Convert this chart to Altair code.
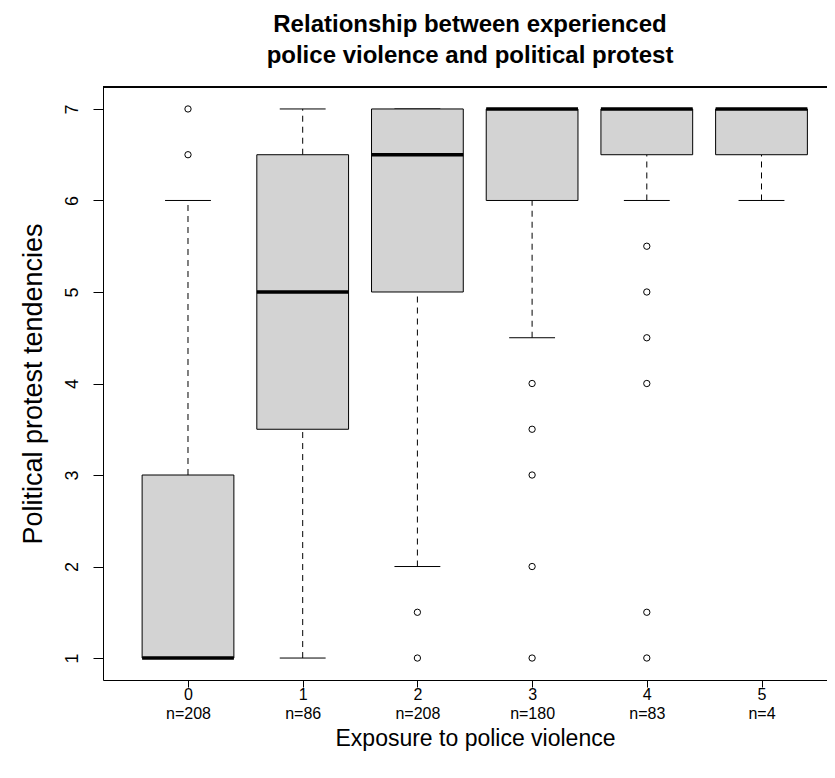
import altair as alt
import pandas as pd

# ---- data ----
groups = [0, 1, 2, 3, 4, 5]
n_labels = ["n=208", "n=86", "n=208", "n=180", "n=83", "n=4"]
q1 = [1.0, 3.5, 5.0, 6.0, 6.5, 6.5]
median = [1.0, 5.0, 6.5, 7.0, 7.0, 7.0]
q3 = [3.0, 6.5, 7.0, 7.0, 7.0, 7.0]
whisk_lo = [1.0, 1.0, 2.0, 4.5, 6.0, 6.0]
whisk_hi = [6.0, 7.0, 7.0, 7.0, 7.0, 7.0]
out_group = [0, 0, 2, 2, 3, 3, 3, 3, 3, 4, 4, 4, 4, 4, 4]
out_value = [6.5, 7.0, 1.5, 1.0, 4.0, 3.5, 3.0, 2.0, 1.0, 5.5, 5.0, 4.5, 4.0, 1.5, 1.0]
y_ticks = [1, 2, 3, 4, 5, 6, 7]

title_lines = ["Relationship between experienced", "police violence and political protest"]
x_title = "Exposure to police violence"
y_title = "Political protest tendencies"

box_df = pd.DataFrame({"g": groups, "q1": q1, "med": median, "q3": q3,
                       "lo": whisk_lo, "hi": whisk_hi})
out_df = pd.DataFrame({"g": out_group, "v": out_value})

W, H = 724, 593
FONT = "Liberation Sans"

xs = alt.Scale(domain=[-0.741, 5.571], nice=False, zero=False)
ys = alt.Scale(domain=[0.76, 7.24], nice=False, zero=False)

label_expr = "[datum.label, " + str(n_labels) + "[datum.value]]"

x_axis = alt.Axis(values=groups, format="d", title=x_title, grid=False,
                  labelExpr=label_expr, labelFont=FONT, labelFontSize=16,
                  labelColor="black", labelLineHeight=19, labelPadding=-1,
                  labelBaseline="top", tickSize=7, tickColor="black",
                  domainColor="black", titleFont=FONT, titleFontSize=23,
                  titleFontWeight="normal", titleColor="black",
                  titleX=372, titleAlign="center",
                  titleY=58, titleBaseline="middle")
y_axis = alt.Axis(values=y_ticks, format="d", title=y_title, grid=False,
                  labelAngle=270, labelAlign="center", labelBaseline="alphabetic",
                  labelPadding=16, labelFont=FONT, labelFontSize=18,
                  labelColor="black", tickSize=10, tickColor="black",
                  domainColor="black", titleFont=FONT, titleFontSize=27,
                  titleFontWeight="normal", titleColor="black",
                  titleX=-70, titleY=H / 2, titleAlign="center",
                  titleBaseline="middle", titleAngle=270)


def X(field):
    return alt.X(field, type="quantitative", scale=xs, axis=x_axis)


def Y(field):
    return alt.Y(field, type="quantitative", scale=ys, axis=y_axis)


base = alt.Chart(box_df).transform_calculate(
    bl="datum.g - 0.4", br="datum.g + 0.4",
    cl="datum.g - 0.2", cr="datum.g + 0.2")

upper_whisker = base.mark_rule(color="black", strokeWidth=1, strokeDash=[6, 5]).encode(
    x=X("g"), y=Y("q3"), y2="hi")
lower_whisker = base.mark_rule(color="black", strokeWidth=1, strokeDash=[6, 5]).encode(
    x=X("g"), y=Y("lo"), y2="q1")
upper_cap = base.mark_rule(color="black", strokeWidth=1).encode(
    x=X("cl"), x2="cr", y=Y("hi"))
lower_cap = base.mark_rule(color="black", strokeWidth=1).encode(
    x=X("cl"), x2="cr", y=Y("lo"))
boxes = base.mark_rect(fill="#D3D3D3", stroke="black", strokeWidth=1).encode(
    x=X("bl"), x2="br", y=Y("q1"), y2="q3")
medians = base.mark_rule(color="black", strokeWidth=3.5).encode(
    x=X("bl"), x2="br", y=Y("med"))
outliers = alt.Chart(out_df).mark_point(
    shape="circle", filled=False, size=40, color="black", strokeWidth=1, opacity=1).encode(
    x=X("g"), y=Y("v"))
top_frame = alt.Chart(box_df).mark_rule(color="black", strokeWidth=1).encode(
    x=alt.value(0), x2=alt.value(W), y=alt.value(0))

chart = alt.layer(upper_whisker, lower_whisker, upper_cap, lower_cap, boxes,
                  medians, outliers, top_frame).properties(
    width=W, height=H,
    title=alt.TitleParams(text=title_lines, anchor="middle", frame="group",
                          font=FONT, fontSize=24, fontWeight="bold",
                          color="black", lineHeight=31, offset=19, dx=5),
    autosize=alt.AutoSizeParams(type="none"),
    padding={"left": 95, "top": 79, "right": 0, "bottom": 83},
).configure_view(stroke=None).configure(background="white")

chart.save("out.html", embed_options={"renderer": "svg", "actions": False})
